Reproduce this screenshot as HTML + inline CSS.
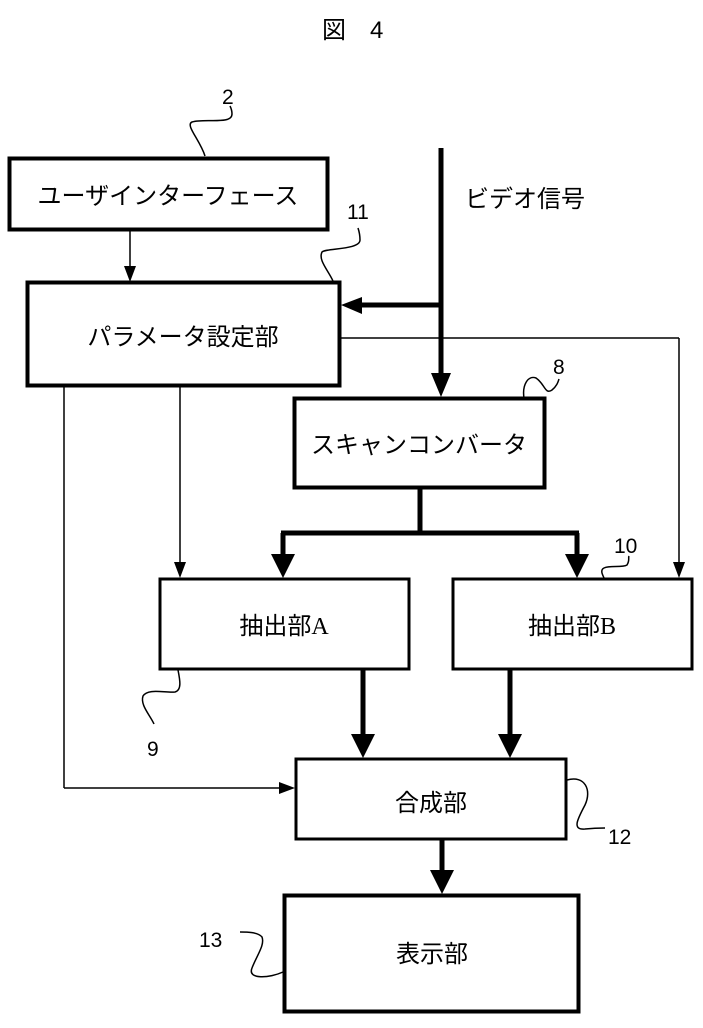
<!DOCTYPE html>
<html><head><meta charset="utf-8"><style>
html,body{margin:0;padding:0;background:#fff;}
svg{display:block;}
text{font-family:"Liberation Sans","Noto Sans CJK JP",sans-serif;fill:#000;}
</style></head><body>
<svg width="703" height="1028" viewBox="0 0 703 1028" xmlns="http://www.w3.org/2000/svg">
<text x="322" y="38" font-size="24">図</text><text x="370" y="38" font-size="24">4</text>

<g fill="none" stroke="#000">
<rect x="9.5" y="158.5" width="318" height="71" stroke-width="4"/>
<rect x="27.5" y="282.5" width="312" height="103" stroke-width="4"/>
<rect x="294.5" y="398.5" width="250" height="89" stroke-width="4"/>
<rect x="160" y="579" width="249" height="90" stroke-width="3"/>
<rect x="453" y="579" width="239" height="90" stroke-width="3"/>
<rect x="296" y="759" width="270" height="80" stroke-width="3"/>
<rect x="284.5" y="895.5" width="294" height="116" stroke-width="4"/>

<g stroke-width="5">
<line x1="441" y1="148" x2="441" y2="378"/>
<line x1="441" y1="305" x2="360" y2="305"/>
<line x1="420" y1="488" x2="420" y2="533"/>
<line x1="281" y1="533" x2="579" y2="533"/>
<line x1="283" y1="533" x2="283" y2="560"/>
<line x1="577" y1="533" x2="577" y2="560"/>
<line x1="363" y1="670" x2="363" y2="740"/>
<line x1="510" y1="670" x2="510" y2="740"/>
<line x1="442" y1="840" x2="442" y2="876"/>
</g>
<g stroke-width="1.5">
<line x1="130" y1="230" x2="130" y2="270"/>
<line x1="340" y1="338" x2="679" y2="338"/>
<line x1="679" y1="338" x2="679" y2="566"/>
<line x1="180" y1="386" x2="180" y2="566"/>
<line x1="64" y1="386" x2="64" y2="788"/>
<line x1="64" y1="788" x2="282" y2="788"/>
</g>
<g stroke-width="1.5">
<path d="M205,156 C200,140 185,125 192,122 C205,118 232,125 232,114 C232,110 231,108 230,106"/>
<path d="M333,281 C328,270 318,260 322,252 C326,248 360,250 360,240 C360,234 359,231 358,228"/>
<path d="M524,398 C522,385 528,375 536,378 C545,384 545,395 552,390 C557,386 558,382 559,379"/>
<path d="M605,580 C602,574 600,570 604,568 C610,565 622,568 627,565 C630,560 628,558 629,556"/>
<path d="M178,670 C180,680 182,690 175,692 C165,693 148,688 143,696 C140,705 150,715 154,724"/>
<path d="M567,780 C585,775 592,790 585,805 C577,820 572,830 585,829 C595,828 600,828 605,828"/>
<path d="M283,972 C270,978 247,980 252,968 C257,955 265,945 262,937 C258,932 247,932 240,932"/>
</g>
</g>
<g fill="#000">
<path d="M341,305 L362,297 L362,314 z"/>
<path d="M441,397 L431,373 L451,373 z"/>
<path d="M283,578 L271,554 L295,554 z"/>
<path d="M577,578 L565,554 L589,554 z"/>
<path d="M363,758 L351,734 L375,734 z"/>
<path d="M510,758 L498,734 L522,734 z"/>
<path d="M442,894 L430,870 L454,870 z"/>
<path d="M130,282 L124,266 L136,266 z"/>
<path d="M679,578 L673,562 L685,562 z"/>
<path d="M180,578 L174,562 L186,562 z"/>
<path d="M295,788 L279,782 L279,794 z"/>
</g>

<g font-size="24">
<text x="168" y="204" text-anchor="middle">ユーザインターフェース</text>
<text x="183" y="345" text-anchor="middle">パラメータ設定部</text>
<text x="419" y="453" text-anchor="middle">スキャンコンバータ</text>
<text x="284" y="634" text-anchor="middle">抽出部<tspan font-family="Liberation Serif">A</tspan></text>
<text x="572" y="634" text-anchor="middle">抽出部<tspan font-family="Liberation Serif">B</tspan></text>
<text x="431" y="811" text-anchor="middle">合成部</text>
<text x="432" y="962" text-anchor="middle">表示部</text>
<text x="465" y="207">ビデオ信号</text>
</g>
<g font-size="21">
<text x="222" y="104">2</text>
<text x="347" y="219">11</text>
<text x="553" y="374">8</text>
<text x="614" y="553">10</text>
<text x="147" y="756">9</text>
<text x="608" y="844">12</text>
<text x="199" y="947">13</text>
</g>
</svg>
</body></html>
